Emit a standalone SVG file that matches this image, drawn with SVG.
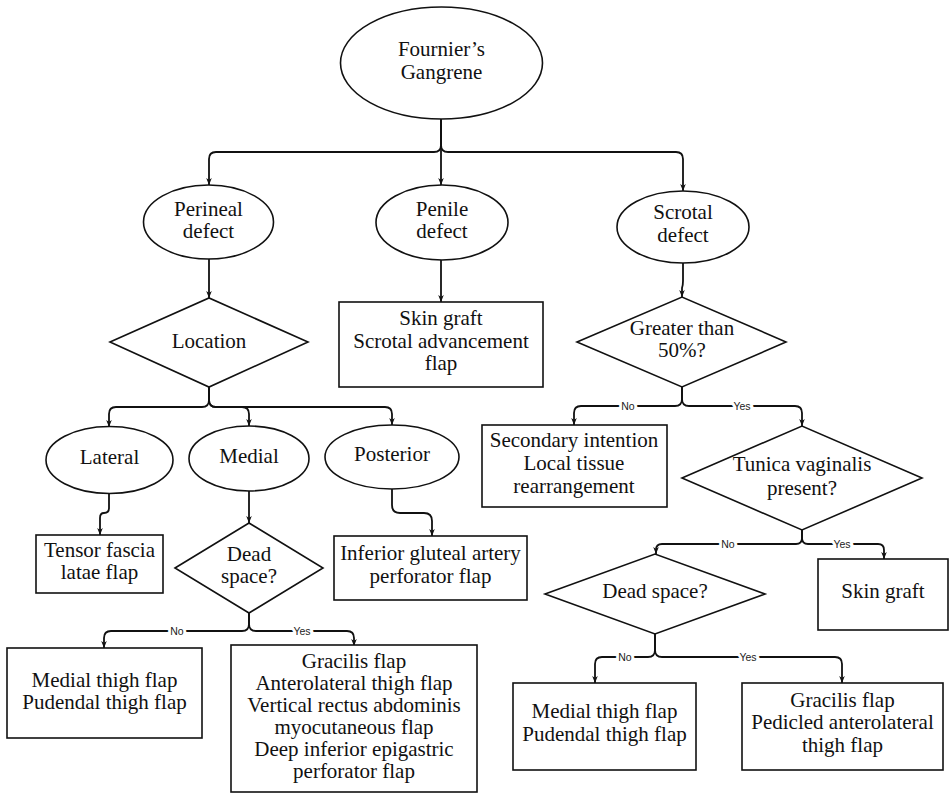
<svg xmlns="http://www.w3.org/2000/svg" width="950" height="795" viewBox="0 0 950 795">
<defs>
<style>
.s{fill:#fff;stroke:#111;stroke-width:1.6}
.t{font-family:"Liberation Serif","Times New Roman",serif;font-size:21px;fill:#111;text-anchor:middle}
.c{fill:none;stroke:#111;stroke-width:1.8;marker-end:url(#ah)}
.l{font-family:"Liberation Sans",Arial,sans-serif;font-size:10.5px;fill:#222;text-anchor:middle;paint-order:stroke;stroke:#fff;stroke-width:6px}
</style>
<marker id="ah" viewBox="0 0 10 10" refX="10" refY="5" markerWidth="7" markerHeight="7" orient="auto" markerUnits="userSpaceOnUse">
<path d="M0,1 L10,5 L0,9 L3,5 z" fill="#111"/>
</marker>
</defs>
<rect width="950" height="795" fill="#fff"/>
<g id="connectors">
<path class="c" d="M441,119 V145 Q441,152 434,152 H216 Q209,152 209,159 V185"/>
<path class="c" d="M441,119 V185"/>
<path class="c" d="M441,119 V145 Q441,152 448,152 H676 Q683,152 683,159 V191"/>
<path class="c" d="M209,259 V298"/>
<path class="c" d="M441,260 V302"/>
<path class="c" d="M683,263 V281 Q683,285 682,288 V297"/>
<path class="c" d="M209,387 V400 Q209,407 202,407 H116 Q109,407 109,414 V427"/>
<path class="c" d="M209,387 V400 Q209,407 216,407 H242 Q249,407 249,414 V426"/>
<path class="c" d="M209,387 V400 Q209,407 216,407 H385 Q392,407 392,414 V425"/>
<path class="c" d="M109,494 V508 Q109,513 104,513 Q100,513 100,518 V535"/>
<path class="c" d="M249,491 V523"/>
<path class="c" d="M392,489 V505 Q392,513 400,513 H424 Q432,513 432,521 V536"/>
<path class="c" d="M249,613 V624 Q249,631 242,631 H111 Q104,631 104,638 V648"/>
<path class="c" d="M249,613 V624 Q249,631 256,631 H347 Q354,631 354,638 V646"/>
<path class="c" d="M682,387 V399 Q682,406 675,406 H581 Q574,406 574,413 V425"/>
<path class="c" d="M682,387 V399 Q682,406 689,406 H795 Q802,406 802,413 V426"/>
<path class="c" d="M802,530 V538 Q802,544 796,544 H662 Q656,544 656,550 V554"/>
<path class="c" d="M802,530 V538 Q802,544 808,544 H878 Q884,544 884,550 V559"/>
<path class="c" d="M655,634 V650 Q655,657 648,657 H602 Q595,657 595,664 V683"/>
<path class="c" d="M655,634 V650 Q655,657 662,657 H835 Q842,657 842,664 V683"/>
<text class="l" x="177" y="635">No</text>
<text class="l" x="302" y="635">Yes</text>
<text class="l" x="628" y="410">No</text>
<text class="l" x="742" y="410">Yes</text>
<text class="l" x="728" y="548">No</text>
<text class="l" x="842" y="548">Yes</text>
<text class="l" x="625" y="661">No</text>
<text class="l" x="748" y="661">Yes</text>
</g>
<g id="fournier"><ellipse class="s" cx="441.5" cy="63" rx="101" ry="56"/><text class="t" x="441.5" y="56">Fournier’s</text><text class="t" x="441.5" y="79">Gangrene</text></g>
<g id="perineal"><ellipse class="s" cx="208.5" cy="222" rx="65" ry="37"/><text class="t" x="208.5" y="216">Perineal</text><text class="t" x="208.5" y="238">defect</text></g>
<g id="penile"><ellipse class="s" cx="442" cy="222.5" rx="66" ry="37.5"/><text class="t" x="442" y="216">Penile</text><text class="t" x="442" y="238">defect</text></g>
<g id="scrotal"><ellipse class="s" cx="683" cy="227" rx="66" ry="36"/><text class="t" x="683" y="219">Scrotal</text><text class="t" x="683" y="242">defect</text></g>
<g id="location"><polygon class="s" points="110,342 209,298 308,342 209,387"/><text class="t" x="209" y="348">Location</text></g>
<g id="penile-tx"><rect class="s" x="339" y="302" width="204" height="85"/><text class="t" x="441" y="325">Skin graft</text><text class="t" x="441" y="348">Scrotal advancement</text><text class="t" x="441" y="370">flap</text></g>
<g id="greater"><polygon class="s" points="577,342 682,297 786,342 682,387"/><text class="t" x="682" y="335">Greater than</text><text class="t" x="682" y="357">50%?</text></g>
<g id="lateral"><ellipse class="s" cx="109.5" cy="460" rx="63.5" ry="33.5"/><text class="t" x="109.5" y="464">Lateral</text></g>
<g id="medial"><ellipse class="s" cx="249" cy="458.5" rx="60" ry="32.5"/><text class="t" x="249" y="463">Medial</text></g>
<g id="posterior"><ellipse class="s" cx="392" cy="457" rx="67" ry="32"/><text class="t" x="392" y="461">Posterior</text></g>
<g id="secondary"><rect class="s" x="482" y="425" width="185" height="82"/><text class="t" x="574" y="447">Secondary intention</text><text class="t" x="574" y="470">Local tissue</text><text class="t" x="574" y="493">rearrangement</text></g>
<g id="tunica"><polygon class="s" points="682,478 802,426 922,478 802,530"/><text class="t" x="802" y="471">Tunica vaginalis</text><text class="t" x="802" y="495">present?</text></g>
<g id="tensor"><rect class="s" x="36" y="535" width="127" height="58"/><text class="t" x="99.5" y="557">Tensor fascia</text><text class="t" x="99.5" y="579">latae flap</text></g>
<g id="dead-left"><polygon class="s" points="175,568 249,523 323,568 249,613"/><text class="t" x="249" y="561">Dead</text><text class="t" x="249" y="583">space?</text></g>
<g id="gluteal"><rect class="s" x="334" y="536" width="193" height="64"/><text class="t" x="430.5" y="560">Inferior gluteal artery</text><text class="t" x="430.5" y="583">perforator flap</text></g>
<g id="skin-graft"><rect class="s" x="818" y="559" width="130" height="71"/><text class="t" x="883" y="598">Skin graft</text></g>
<g id="dead-right"><polygon class="s" points="545,594 655,554 765,594 655,634"/><text class="t" x="655" y="598">Dead space?</text></g>
<g id="medial-left"><rect class="s" x="7" y="648" width="195" height="90"/><text class="t" x="104.5" y="687">Medial thigh flap</text><text class="t" x="104.5" y="709">Pudendal thigh flap</text></g>
<g id="gracilis-left"><rect class="s" x="231" y="645" width="246" height="147"/><text class="t" x="354" y="668">Gracilis flap</text><text class="t" x="354" y="690">Anterolateral thigh flap</text><text class="t" x="354" y="712">Vertical rectus abdominis</text><text class="t" x="354" y="734">myocutaneous flap</text><text class="t" x="354" y="756">Deep inferior epigastric</text><text class="t" x="354" y="778">perforator flap</text></g>
<g id="medial-right"><rect class="s" x="513" y="683" width="183" height="87"/><text class="t" x="604.5" y="718">Medial thigh flap</text><text class="t" x="604.5" y="741">Pudendal thigh flap</text></g>
<g id="gracilis-right"><rect class="s" x="742" y="683" width="201" height="87"/><text class="t" x="842.5" y="707">Gracilis flap</text><text class="t" x="842.5" y="729">Pedicled anterolateral</text><text class="t" x="842.5" y="752">thigh flap</text></g>
</svg>
